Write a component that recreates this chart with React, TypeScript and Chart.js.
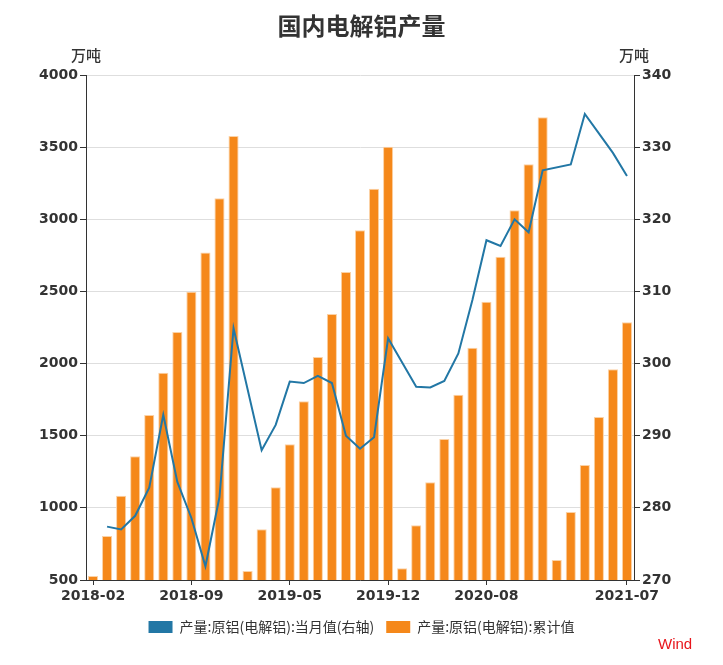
import React, { useEffect, useRef } from 'react';
import { Chart, registerables } from 'chart.js';

Chart.register(...registerables);

const categories = [
  '2018-02', '2018-03', '2018-04', '2018-05', '2018-06', '2018-07', '2018-08', '2018-09', '2018-10', '2018-11', '2018-12',
  '2019-02', '2019-03', '2019-04', '2019-05', '2019-06', '2019-07', '2019-08', '2019-09', '2019-10', '2019-11', '2019-12',
  '2020-02', '2020-03', '2020-04', '2020-05', '2020-06', '2020-07', '2020-08', '2020-09', '2020-10', '2020-11', '2020-12',
  '2021-02', '2021-03', '2021-04', '2021-05', '2021-06', '2021-07',
];

// 产量:原铝(电解铝):当月值 (右轴), 万吨
const monthlyOutput: (number | null)[] = [
  null, 277.4, 277.0, 278.9, 282.8, 292.9, 283.6, 278.6, 271.9, 281.5, 304.9,
  null, 288.0, 291.5, 297.5, 297.3, 298.3, 297.3, 290.0, 288.2, 289.8, 303.5,
  null, 296.8, 296.7, 297.6, 301.4, 308.8, 317.1, 316.3, 320.0, 318.2, 326.8,
  null, 327.6, 334.6, 331.9, 329.2, 326.0,
];

// 产量:原铝(电解铝):累计值, 万吨
const cumulativeOutput = [
  528, 805, 1084, 1357, 1644, 1937, 2219, 2498, 2769, 3145, 3577,
  562, 851, 1142, 1440, 1738, 2046, 2344, 2635, 2924, 3212, 3503,
  581, 879, 1177, 1477, 1784, 2110, 2429, 2741, 3062, 3381, 3707,
  639, 971, 1297, 1630, 1960, 2286,
];

const labeledMonths = ['2018-02', '2018-09', '2019-05', '2019-12', '2020-08', '2021-07'];

const leftAxis = { min: 500, max: 4000, step: 500 };
const rightAxis = { min: 270, max: 340, step: 10 };

const titleText = '国内电解铝产量';
const unitText = '万吨';
const seriesNames = ['产量:原铝(电解铝):当月值(右轴)', '产量:原铝(电解铝):累计值'];
const sourceText = 'Wind';

const TEXT = '#333333';
const LINE_BLUE = '#2277a5';
const BAR_ORANGE = '#f5881a';
const BAR_EDGE = '#fbd2a6';

const tickFont = { family: '"DejaVu Sans", sans-serif', size: 14, weight: 'bold' as const };

const extrasPlugin = {
  id: 'extras',
  afterDraw(chart: any) {
    const ctx = chart.ctx;
    const { left, right } = chart.chartArea;
    ctx.save();
    ctx.fillStyle = TEXT;
    ctx.font = '500 15px "Noto Sans CJK SC", sans-serif';
    ctx.textAlign = 'center';
    ctx.textBaseline = 'middle';
    ctx.fillText(unitText, left, 55);
    ctx.fillText(unitText, right, 55);
    ctx.fillStyle = '#e8161c';
    ctx.font = '15px "Liberation Sans", Arial, sans-serif';
    ctx.textAlign = 'left';
    ctx.fillText(sourceText, 658, 645);
    ctx.restore();
  },
};

export default function App() {
  const canvasRef = useRef<HTMLCanvasElement | null>(null);

  useEffect(() => {
    if (!canvasRef.current) return;
    const chart = new Chart(canvasRef.current, {
      type: 'bar',
      data: {
        labels: categories,
        datasets: [
          {
            type: 'line',
            label: seriesNames[0],
            data: monthlyOutput,
            yAxisID: 'yRight',
            borderColor: LINE_BLUE,
            backgroundColor: LINE_BLUE,
            borderWidth: 2,
            pointRadius: 0,
            pointHoverRadius: 0,
            tension: 0,
            spanGaps: true,
            order: 0,
          } as any,
          {
            type: 'bar',
            label: seriesNames[1],
            data: cumulativeOutput,
            yAxisID: 'yLeft',
            backgroundColor: BAR_ORANGE,
            borderColor: BAR_EDGE,
            borderWidth: 1,
            barPercentage: 0.72,
            categoryPercentage: 1,
            order: 1,
          },
        ],
      },
      options: {
        responsive: false,
        animation: false,
        events: [],
        layout: { padding: { top: 0, bottom: 21, left: 0, right: 0 } },
        plugins: {
          tooltip: { enabled: false },
          title: {
            display: true,
            text: titleText,
            color: TEXT,
            font: { family: '"Noto Sans CJK SC", sans-serif', size: 24, weight: 'bold' },
            padding: { top: 11, bottom: 35.2 },
          },
          legend: {
            display: true,
            position: 'bottom',
            labels: {
              boxWidth: 24,
              boxHeight: 12,
              padding: 12,
              color: TEXT,
              font: { family: '"Noto Sans CJK SC", sans-serif', size: 14 },
              generateLabels: (c: any) => {
                const items = (Chart as any).defaults.plugins.legend.labels.generateLabels(c);
                return items.map((it: any) => ({ ...it, lineWidth: 0, strokeStyle: 'rgba(0,0,0,0)' }));
              },
            },
          },
        },
        scales: {
          x: {
            type: 'category',
            offset: true,
            grid: {
              display: true,
              drawOnChartArea: false,
              offset: false,
              tickLength: 5,
              tickColor: TEXT,
            },
            border: { display: true, color: TEXT, width: 1 },
            ticks: {
              autoSkip: false,
              maxRotation: 0,
              minRotation: 0,
              color: TEXT,
              font: tickFont,
              padding: 3,
            },
            afterBuildTicks: (scale: any) => {
              scale.ticks = scale.ticks.filter((t: any) => labeledMonths.includes(categories[t.value]));
            },
            afterFit: (scale: any) => {
              scale.height = 28;
            },
          },
          yLeft: {
            type: 'linear',
            position: 'left',
            min: leftAxis.min,
            max: leftAxis.max,
            grid: {
              color: '#dedede',
              tickColor: TEXT,
              tickLength: 6,
              drawOnChartArea: true,
            },
            border: { display: true, color: TEXT, width: 1 },
            ticks: {
              stepSize: leftAxis.step,
              color: TEXT,
              font: tickFont,
              padding: 2,
              callback: (v: any) => String(v),
            },
            afterFit: (scale: any) => {
              scale.width = 86;
            },
          },
          yRight: {
            type: 'linear',
            position: 'right',
            min: rightAxis.min,
            max: rightAxis.max,
            grid: {
              drawOnChartArea: false,
              tickColor: TEXT,
              tickLength: 6,
            },
            border: { display: true, color: TEXT, width: 1 },
            ticks: {
              stepSize: rightAxis.step,
              color: TEXT,
              font: tickFont,
              padding: 2,
              callback: (v: any) => String(v),
            },
            afterFit: (scale: any) => {
              scale.width = 89;
            },
          },
        },
      } as any,
      plugins: [extrasPlugin],
    });
    return () => chart.destroy();
  }, []);

  return (
    <div style={{ position: 'absolute', left: 0, top: 0, width: 723, height: 665, background: '#ffffff' }}>
      <canvas ref={canvasRef} width={723} height={665} style={{ display: 'block' }} />
    </div>
  );
}
